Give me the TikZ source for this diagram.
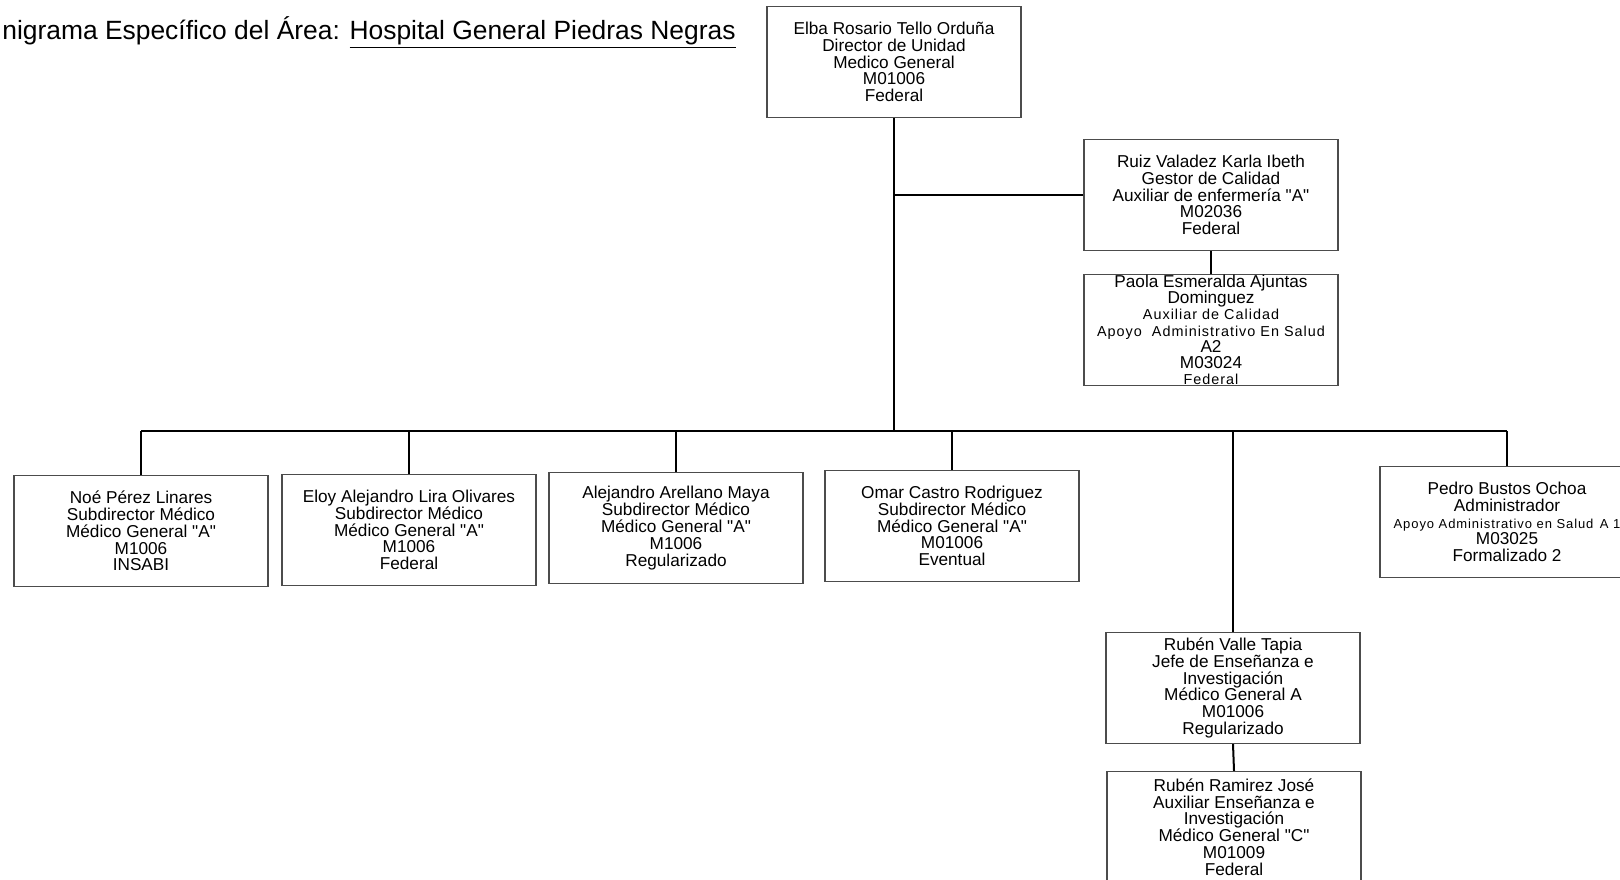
\documentclass[tikz,border=0pt]{standalone}
\usepackage{fontspec}
\setmainfont{Liberation Sans}
\newfontfamily\espaciada[LetterSpace=7]{Liberation Sans}
\newcommand\chica{\fontsize{7.2}{8.1}\espaciada}
\newcommand\diminuta{\fontsize{6.5}{8.4}\espaciada}
\newcommand\cat[1]{\textquotedbl#1\textquotedbl}
\tikzset{
  puesto/.style={draw=black!70, line width=0.6pt, fill=white, minimum width=127pt, minimum height=55.5pt, inner sep=0pt, align=center, font=\fontsize{8.6}{8.4}\selectfont},
  linea/.style={line width=1pt}
}
\begin{document}
\begin{tikzpicture}[x=0.5pt,y=-0.5pt]
\fill[white] (0,0) rectangle (1620,879);
\useasboundingbox (0,0) rectangle (1620,879);
\node[anchor=base west, inner sep=0pt, font=\fontsize{13.2}{16}\selectfont] (titulo) at (2,39) {nigrama Específico del Área: \underline{Hospital General Piedras Negras}};

\node[puesto] (elba) at (894,62) {Elba Rosario Tello Orduña\\Director de Unidad\\Medico General\\M01006\\Federal};
\node[puesto] (ruiz) at (1211,195) {Ruiz Valadez Karla Ibeth\\Gestor de Calidad\\Auxiliar de enfermería \cat{A}\\M02036\\Federal};
\node[puesto, font=\fontsize{8.6}{8.1}\selectfont] (paola) at (1211,330) {Paola Esmeralda Ajuntas\\Dominguez\\{\chica Auxiliar de Calidad}\\{\chica Apoyo\ \ Administrativo En Salud}\\A2\\M03024\\{\chica Federal}};

\coordinate (barra) at (895,431);

\node[puesto] (noe) at (141,531) {Noé Pérez Linares\\Subdirector Médico\\Médico General \cat{A}\\M1006\\INSABI};
\node[puesto] (eloy) at (409,530) {Eloy Alejandro Lira Olivares\\Subdirector Médico\\Médico General \cat{A}\\M1006\\Federal};
\node[puesto] (alejandro) at (676,528) {Alejandro Arellano Maya\\Subdirector Médico\\Médico General \cat{A}\\M1006\\Regularizado};
\node[puesto] (omar) at (952,526) {Omar Castro Rodriguez\\Subdirector Médico\\Médico General \cat{A}\\M01006\\Eventual};
\node[puesto] (pedro) at (1507,522) {Pedro Bustos Ochoa\\Administrador\\{\diminuta Apoyo Administrativo en Salud\enspace A~1}\\M03025\\Formalizado 2};

\node[puesto] (valle) at (1233,688) {Rubén Valle Tapia\\Jefe de Enseñanza e\\Investigación\\Médico General A\\M01006\\Regularizado};
\node[puesto] (ramirez) at (1234,827) {Rubén Ramirez José\\Auxiliar Enseñanza e\\Investigación\\Médico General \cat{C}\\M01009\\Federal};

\draw[linea] (elba.south) -- (elba.south |- barra);
\draw[linea] (ruiz.west) -- (ruiz.west -| elba.south);
\draw[linea] (ruiz.south) -- (paola.north);
\draw[linea] (noe.north |- barra) -- (pedro.north |- barra);
\draw[linea] (noe.north) -- (noe.north |- barra);
\draw[linea] (eloy.north) -- (eloy.north |- barra);
\draw[linea] (alejandro.north) -- (alejandro.north |- barra);
\draw[linea] (omar.north) -- (omar.north |- barra);
\draw[linea] (pedro.north) -- (pedro.north |- barra);
\draw[linea] (valle.north) -- (valle.north |- barra);
\draw[linea] (valle.south) -- (ramirez.north);
\end{tikzpicture}
\end{document}
